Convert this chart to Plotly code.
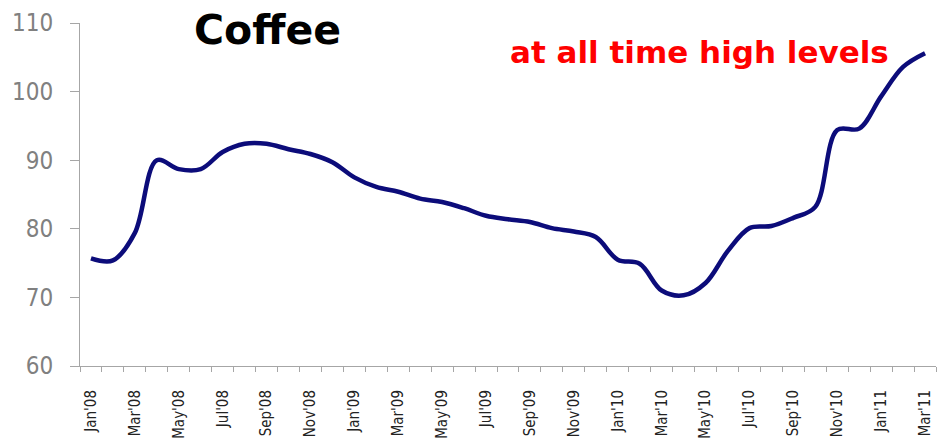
import plotly.graph_objects as go

# Monthly coffee price index, Jan 2008 – Mar 2011
months = [
    "Jan'08", "Feb'08", "Mar'08", "Apr'08", "May'08", "Jun'08", "Jul'08", "Aug'08",
    "Sep'08", "Oct'08", "Nov'08", "Dec'08", "Jan'09", "Feb'09", "Mar'09", "Apr'09",
    "May'09", "Jun'09", "Jul'09", "Aug'09", "Sep'09", "Oct'09", "Nov'09", "Dec'09",
    "Jan'10", "Feb'10", "Mar'10", "Apr'10", "May'10", "Jun'10", "Jul'10", "Aug'10",
    "Sep'10", "Oct'10", "Nov'10", "Dec'10", "Jan'11", "Feb'11", "Mar'11",
]
coffee = [
    75.7, 75.4, 79.4, 90.0, 88.7, 88.7, 91.2, 92.4,
    92.4, 91.6, 90.9, 89.7, 87.5, 86.1, 85.4, 84.4,
    83.9, 83.0, 81.9, 81.4, 81.0, 80.1, 79.6, 78.8,
    75.5, 74.9, 71.0, 70.3, 72.1, 76.7, 80.1, 80.4,
    81.6, 83.2, 94.4, 94.6, 99.3, 103.6, 105.6,
]
y_ticks = [60, 70, 80, 90, 100, 110]

x_pos = list(range(len(months)))
label_pos = x_pos[::2]
label_text = months[::2]

axis_grey = "#a6a6a6"

fig = go.Figure()
fig.add_trace(go.Scatter(
    x=x_pos,
    y=coffee,
    mode="lines",
    line=dict(color="#0c0c7a", width=4.5, shape="spline", smoothing=1.0),
    hoverinfo="skip",
    showlegend=False,
))

fig.update_layout(
    width=946,
    height=441,
    margin=dict(l=80, r=10, t=23, b=75),
    paper_bgcolor="white",
    plot_bgcolor="white",
    xaxis=dict(
        range=[-0.5, len(months) - 0.5],
        automargin=False,
        tickmode="array",
        tickvals=label_pos,
        ticktext=label_text,
        tickangle=-90,
        ticks="",
        showgrid=False,
        zeroline=False,
        showline=True,
        linecolor=axis_grey,
        linewidth=1,
        ticklabelstandoff=17,
        tickfont=dict(family="DejaVu Sans Condensed, DejaVu Sans", size=15, color="#222222"),
        minor=dict(
            tick0=-0.5,
            dtick=1,
            ticks="outside",
            ticklen=5,
            tickcolor=axis_grey,
            showgrid=False,
        ),
    ),
    yaxis=dict(
        range=[60, 110],
        automargin=False,
        tickmode="array",
        tickvals=y_ticks,
        ticks="outside",
        ticklen=9,
        tickcolor=axis_grey,
        showgrid=False,
        zeroline=False,
        showline=True,
        linecolor=axis_grey,
        linewidth=1,
        ticklabelstandoff=12,
        tickfont=dict(family="DejaVu Sans Condensed, DejaVu Sans", size=24, color="#808080"),
    ),
    annotations=[
        dict(
            text="<b>Coffee</b>",
            xref="paper", yref="paper",
            x=0.2196, y=0.98,
            xanchor="center", yanchor="middle",
            showarrow=False,
            font=dict(family="DejaVu Sans", size=41, color="black"),
        ),
        dict(
            text="<b>at all time high levels</b>",
            xref="paper", yref="paper",
            x=0.724, y=0.915,
            xanchor="center", yanchor="middle",
            showarrow=False,
            font=dict(family="DejaVu Sans", size=31, color="#ff0000"),
        ),
    ],
)

fig.write_html("out.html")
